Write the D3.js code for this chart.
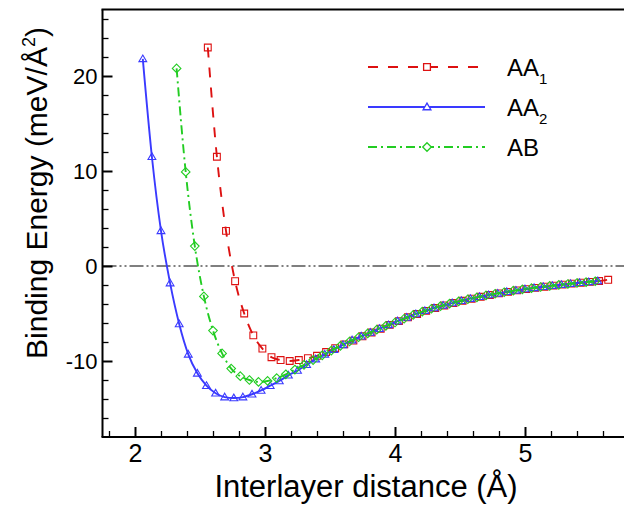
<!DOCTYPE html>
<html>
<head>
<meta charset="utf-8">
<script src="https://cdn.jsdelivr.net/npm/d3@7"></script>
<style>
html,body{margin:0;padding:0;background:#fff;}
svg{display:block;font-family:"Liberation Sans",Arial,sans-serif;}
</style>
</head>
<body>
<svg id="chart" width="624" height="508"></svg>
<script>
// ---- data ----
const aa1X = [2.56,2.63,2.70,2.77,2.84,2.91,2.98,3.05,3.12,3.19,3.26,3.33,3.40,3.47,3.54,3.61,3.68,3.75,3.82,3.89,3.96,4.03,4.10,4.17,4.24,4.31,4.38,4.45,4.52,4.59,4.66,4.73,4.80,4.87,4.94,5.01,5.08,5.15,5.22,5.29,5.36,5.43,5.50,5.57,5.64];
const aa1Y = [23.0,11.5,3.7,-1.6,-5.0,-7.3,-8.7,-9.6,-9.9,-10.0,-9.9,-9.7,-9.45,-9.05,-8.65,-8.25,-7.85,-7.4,-7.0,-6.6,-6.2,-5.8,-5.4,-5.05,-4.72,-4.42,-4.15,-3.9,-3.66,-3.44,-3.24,-3.05,-2.88,-2.72,-2.57,-2.43,-2.3,-2.18,-2.07,-1.96,-1.86,-1.76,-1.67,-1.58,-1.45];

const aa2X = [2.06,2.13,2.20,2.27,2.34,2.41,2.48,2.55,2.62,2.69,2.76,2.83,2.90,2.97,3.04,3.11,3.18,3.25,3.32,3.39,3.46,3.53,3.60,3.67,3.74,3.81,3.88,3.95,4.02,4.09,4.16,4.23,4.30,4.37,4.44,4.51,4.58,4.65,4.72,4.79,4.86,4.93,5.00,5.07,5.14,5.21,5.28,5.35,5.42,5.49,5.56];
const aa2Y = [21.8,11.5,3.7,-1.8,-6.1,-9.3,-11.3,-12.6,-13.4,-13.8,-13.9,-13.8,-13.5,-13.1,-12.6,-12.1,-11.5,-11.0,-10.4,-9.8,-9.3,-8.8,-8.3,-7.8,-7.4,-7.0,-6.6,-6.2,-5.8,-5.42,-5.05,-4.72,-4.42,-4.15,-3.9,-3.66,-3.44,-3.24,-3.05,-2.88,-2.72,-2.57,-2.43,-2.3,-2.18,-2.07,-1.96,-1.86,-1.76,-1.67,-1.58];

const abX = [2.32,2.39,2.46,2.53,2.60,2.67,2.74,2.81,2.88,2.95,3.02,3.09,3.16,3.23,3.30,3.37,3.44,3.51,3.58,3.65,3.72,3.79,3.86,3.93,4.00,4.07,4.14,4.21,4.28,4.35,4.42,4.49,4.56,4.63,4.70,4.77,4.84,4.91,4.98,5.05,5.12,5.19,5.26,5.33,5.40,5.47,5.54];
const abY = [20.8,9.9,2.1,-3.2,-6.8,-9.2,-10.8,-11.6,-12.0,-12.2,-12.1,-11.8,-11.4,-10.9,-10.4,-9.9,-9.4,-8.9,-8.4,-7.95,-7.5,-7.1,-6.7,-6.3,-5.95,-5.55,-5.15,-4.8,-4.5,-4.22,-3.96,-3.72,-3.5,-3.3,-3.1,-2.92,-2.76,-2.6,-2.46,-2.33,-2.21,-2.1,-1.99,-1.89,-1.79,-1.7,-1.61];

const xTickValues = [2,3,4,5];
const yTickValues = [-10,0,10,20];
const seriesNames = ["AA", "AA", "AB"];
const seriesSubs = ["1", "2", ""];
const xTitle = "Interlayer distance (Å)";
const yTitle = "Binding Energy (meV/Å";

// ---- layout ----
const svg = d3.select("#chart");
const pLeft = 102.5, pTop = 9.5, pBottom = 437, pRight = 624;
const x = d3.scaleLinear().domain([1.75, 5.75]).range([pLeft, pLeft + 4*130]);
const y = d3.scaleLinear().domain([-18, 27]).range([pBottom, pTop]);

const series = [
  {xs: aa1X, ys: aa1Y, color: "#dd1111", dash: "10,10", width: 1.9, marker: "square"},
  {xs: aa2X, ys: aa2Y, color: "#3a3aff", dash: null, width: 1.9, marker: "triangle"},
  {xs: abX, ys: abY, color: "#22cc22", dash: "9,4,2,4", width: 1.9, marker: "diamond"}
];

// zero line
svg.append("line")
  .attr("x1", pLeft).attr("x2", pRight)
  .attr("y1", y(0)).attr("y2", y(0))
  .attr("stroke", "#000").attr("stroke-width", 1.1)
  .attr("stroke-dasharray", "14,3,2,3,2,3");

function markerPath(type, cx, cy) {
  if (type === "square") {
    const s = 3.4;
    return `M${cx-s},${cy-s}H${cx+s}V${cy+s}H${cx-s}Z`;
  } else if (type === "triangle") {
    const s = 3.9;
    return `M${cx},${cy-s}L${cx+s},${cy+s*0.7}L${cx-s},${cy+s*0.7}Z`;
  } else {
    const s = 4.3;
    return `M${cx},${cy-s}L${cx+s},${cy}L${cx},${cy+s}L${cx-s},${cy}Z`;
  }
}

const line = d3.line().x(d => x(d[0])).y(d => y(d[1])).curve(d3.curveMonotoneX);

series.forEach(s => {
  const pts = s.xs.map((v, i) => [v, s.ys[i]]);
  const g = svg.append("g");
  g.append("path").attr("d", line(pts))
    .attr("fill", "none").attr("stroke", s.color)
    .attr("stroke-width", s.width)
    .attr("stroke-dasharray", s.dash);
  g.selectAll("path.m").data(pts).enter().append("path")
    .attr("class", "m")
    .attr("d", d => markerPath(s.marker, x(d[0]), y(d[1])))
    .attr("fill", "none").attr("stroke", s.color).attr("stroke-width", 1.1);
});

// axes frame
const axisG = svg.append("g");
axisG.append("line").attr("x1", pLeft).attr("x2", pLeft).attr("y1", pTop).attr("y2", pBottom)
  .attr("stroke", "#000").attr("stroke-width", 2);
axisG.append("line").attr("x1", pLeft - 1).attr("x2", pRight).attr("y1", pBottom).attr("y2", pBottom)
  .attr("stroke", "#000").attr("stroke-width", 2);
axisG.append("line").attr("x1", pLeft - 1).attr("x2", pRight).attr("y1", pTop).attr("y2", pTop)
  .attr("stroke", "#000").attr("stroke-width", 2);

const fmt = d => String(d);

// x ticks (inward)
const xMinor = d3.range(1.8, 5.75, 0.2).filter(v => Math.abs(v - Math.round(v)) > 1e-6);
const xAxis = d3.axisBottom(x).tickValues(xTickValues).tickSizeInner(-10).tickSizeOuter(0).tickPadding(7).tickFormat(fmt);
const gx = svg.append("g").attr("transform", `translate(0,${pBottom})`).call(xAxis);
gx.select(".domain").remove();
gx.selectAll(".tick line").attr("stroke-width", 2);
gx.selectAll("text").attr("font-size", 25).attr("fill", "#000").attr("font-family", "Liberation Sans, Arial, sans-serif");
const xAxisMinor = d3.axisBottom(x).tickValues(xMinor).tickSizeInner(-6).tickSizeOuter(0).tickFormat("");
const gxm = svg.append("g").attr("transform", `translate(0,${pBottom})`).call(xAxisMinor);
gxm.select(".domain").remove();
gxm.selectAll(".tick line").attr("stroke-width", 1.3);

// y ticks (inward)
const yMinor = d3.range(-16, 27, 2).filter(v => v % 10 !== 0);
const yAxis = d3.axisLeft(y).tickValues(yTickValues).tickSizeInner(-10).tickSizeOuter(0).tickPadding(5).tickFormat(fmt);
const gy = svg.append("g").attr("transform", `translate(${pLeft},0)`).call(yAxis);
gy.select(".domain").remove();
gy.selectAll(".tick line").attr("stroke-width", 2);
gy.selectAll("text").attr("font-size", 22).attr("fill", "#000").attr("font-family", "Liberation Sans, Arial, sans-serif");
const yAxisMinor = d3.axisLeft(y).tickValues(yMinor).tickSizeInner(-6).tickSizeOuter(0).tickFormat("");
const gym = svg.append("g").attr("transform", `translate(${pLeft},0)`).call(yAxisMinor);
gym.select(".domain").remove();
gym.selectAll(".tick line").attr("stroke-width", 1.3);

// axis titles
svg.append("text").attr("x", 366).attr("y", 497).attr("text-anchor", "middle")
  .attr("font-size", 31).attr("fill", "#000").text(xTitle);
const yt = svg.append("text").attr("transform", "translate(47,193) rotate(-90)")
  .attr("text-anchor", "middle").attr("font-size", 30).attr("fill", "#000");
yt.append("tspan").text(yTitle);
yt.append("tspan").attr("font-size", 18).attr("dy", -12).text("2");
yt.append("tspan").attr("dy", 12).text(")");

// legend
const legY = [67, 107, 147];
series.forEach((s, i) => {
  const g = svg.append("g");
  g.append("line").attr("x1", 368).attr("x2", 485).attr("y1", legY[i]).attr("y2", legY[i])
    .attr("stroke", s.color).attr("stroke-width", 2.2).attr("stroke-dasharray", s.dash);
  g.append("path").attr("d", markerPath(s.marker, 427, legY[i]))
    .attr("fill", "#fff").attr("stroke", s.color).attr("stroke-width", 1.3);
  const t = g.append("text").attr("x", 507).attr("y", legY[i] + 8.5)
    .attr("font-size", 24).attr("fill", "#000");
  t.append("tspan").text(seriesNames[i]);
  if (seriesSubs[i]) t.append("tspan").attr("font-size", 15).attr("dy", 8).text(seriesSubs[i]);
});
</script>
</body>
</html>
